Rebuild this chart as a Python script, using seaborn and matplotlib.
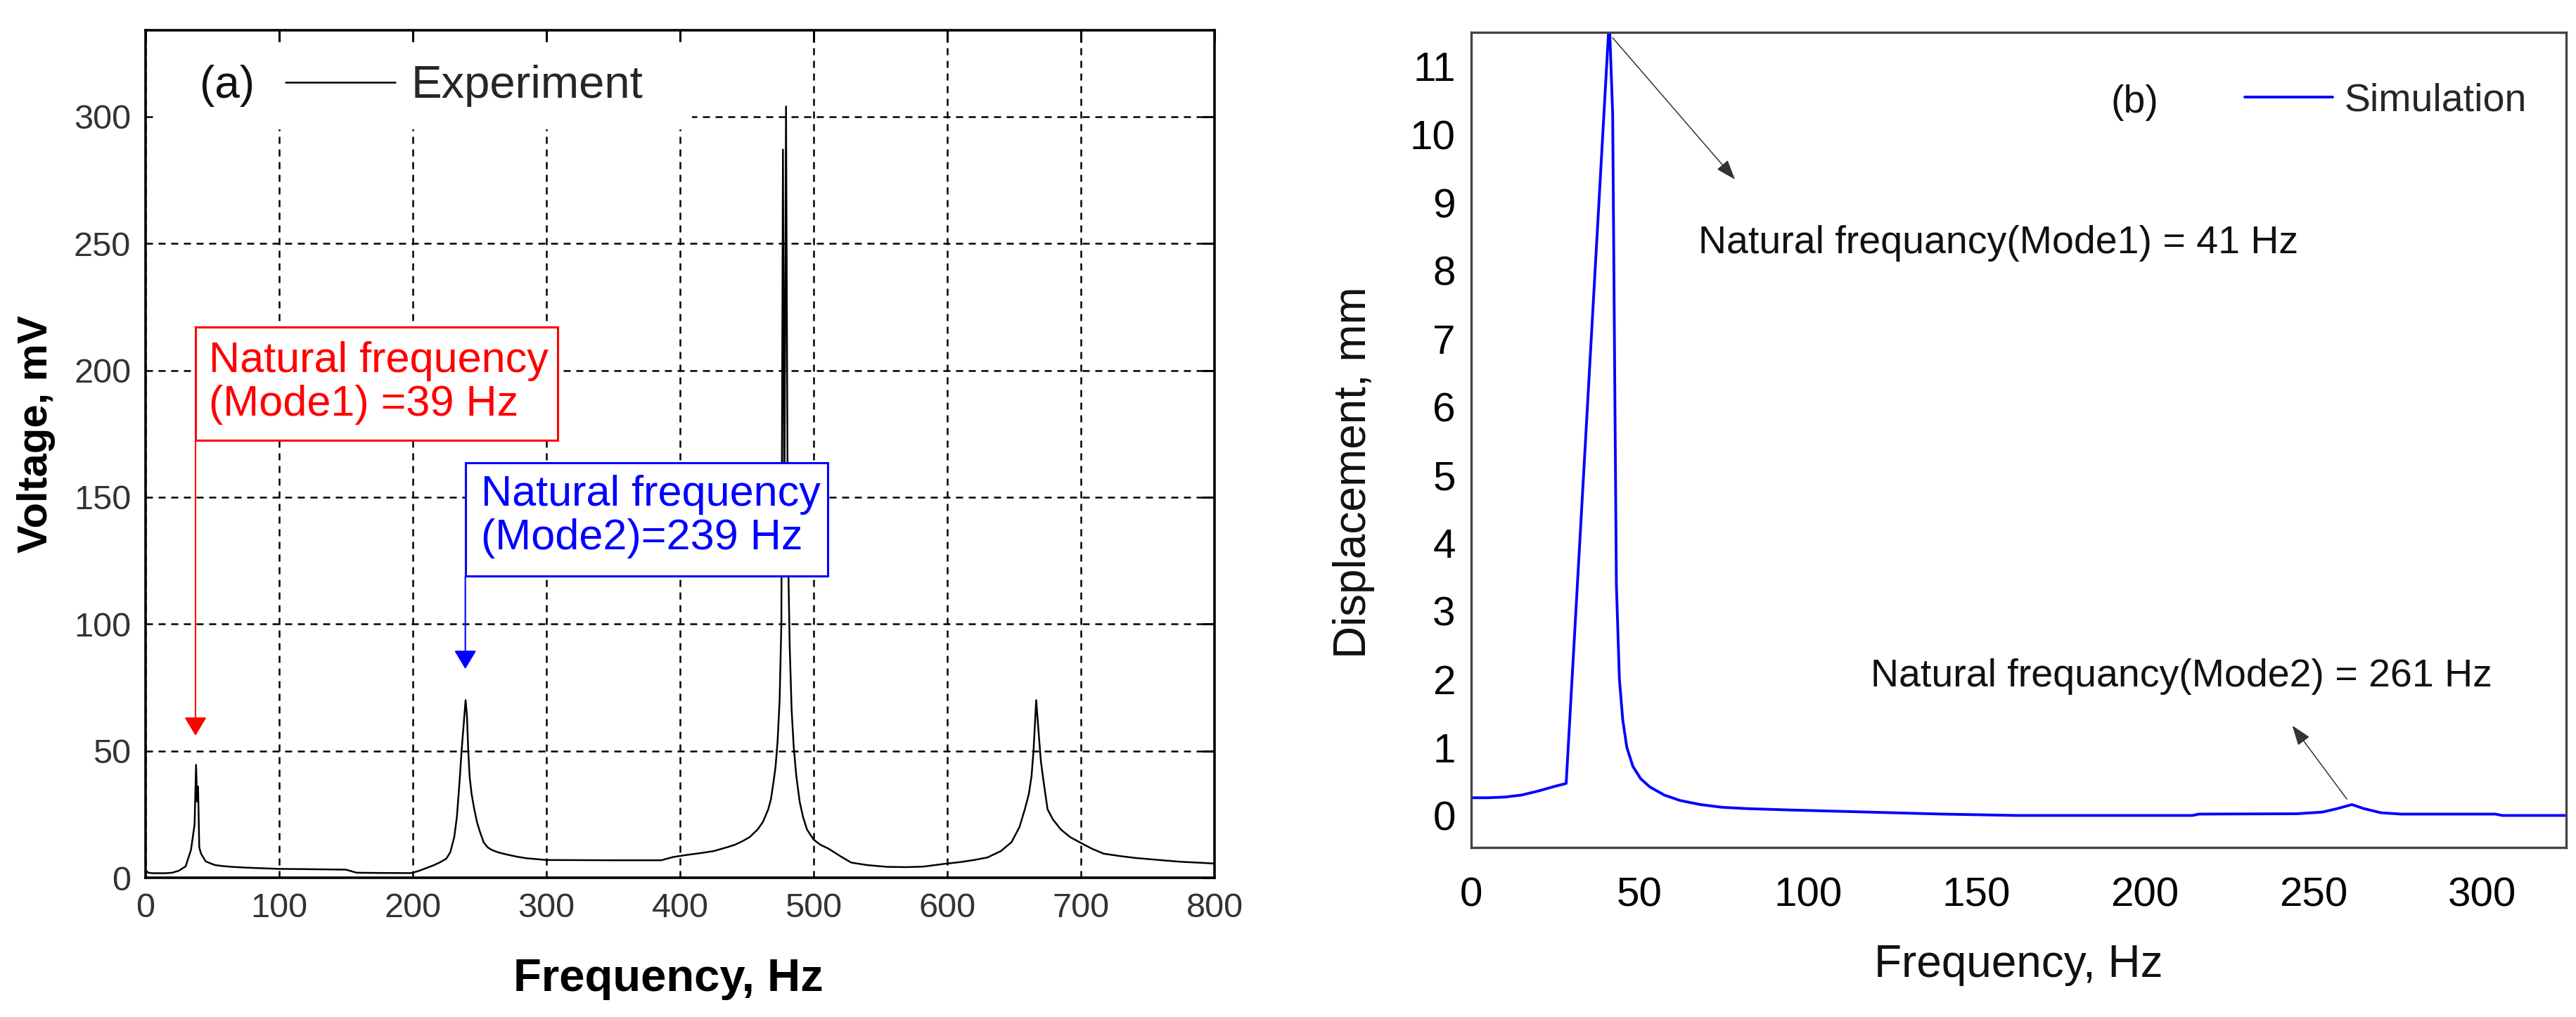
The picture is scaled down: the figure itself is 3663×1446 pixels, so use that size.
import numpy as np
import pandas as pd
import matplotlib
matplotlib.use("Agg")
import matplotlib.pyplot as plt
from matplotlib.patches import Rectangle
import seaborn as sns

exp_freq = [0, 2, 5, 15, 20, 25, 30, 34, 36.7, 37.8, 38.6, 39.3, 40.2, 41.5, 45, 48, 52, 58, 65,
            75, 90, 100, 120, 150, 158, 175, 199, 205, 210, 215, 220, 225, 228, 231, 233, 235,
            236.5, 238, 239.5, 240.5, 241.5, 242.5, 244, 246, 248, 250, 253, 256, 259, 264, 270,
            278, 285, 300, 350, 386, 390, 395, 405, 415, 425, 435, 441, 447, 452, 458, 462, 466,
            468, 470, 471.5, 473, 474.5, 475.8, 477, 478, 479.3, 480.6, 482, 483.5, 485, 487,
            489.5, 492, 495, 500, 505, 511, 520, 528, 540, 555, 570, 582, 598, 610, 620, 630,
            640, 648, 654, 658, 661, 663, 664.5, 665.5, 666.5, 667.5, 668.5, 670, 672, 675, 679,
            685, 692, 699, 708, 717, 730, 741, 752, 763, 775, 790, 800]
exp_volt = [3.0, 2.0, 1.8, 1.8, 2.0, 2.8, 4.5, 11, 21, 44.5, 30, 36, 12, 9.5, 6.5, 5.8, 5.0, 4.6, 4.3,
            4.0, 3.7, 3.5, 3.4, 3.2, 2.0, 1.9, 1.85, 2.8, 3.8, 4.8, 6.0, 7.5, 10, 16, 24, 38,
            50, 60, 70, 64, 50, 40, 33, 27, 22, 18.5, 14, 12, 11, 10, 9.2,
            8.3, 7.7, 7.0, 6.9, 6.9, 7.5, 8.2, 9.0, 9.7, 10.5, 12, 13, 14.5, 16, 19, 22, 27,
            31, 38, 44, 54, 70, 100, 287, 140, 304, 135, 92, 66, 52, 40,
            30, 24, 19, 15, 13, 11.5, 8.5, 6.0, 5.0, 4.3, 4.2, 4.4, 5.5, 6.2, 7.0, 8.0,
            10.5, 14, 20, 27, 33, 40, 50, 60, 70, 63, 56, 46, 38, 27, 23,
            19, 16, 14, 11.5, 9.5, 8.5, 7.8, 7.3, 6.8, 6.3, 5.9, 5.6]

# (b) simulated response
sim_freq = [0, 5, 10, 15, 20, 25, 28.2, 41.0, 42.0, 42.6, 43.1, 44.0, 45.0, 46.2, 48, 50.3, 53,
            57.3, 62, 68, 74.5, 82, 95, 110, 125, 140, 162, 214, 216, 245, 252.7, 257, 261.4,
            265, 270, 276, 304, 306, 325]
sim_disp = [0.26, 0.26, 0.27, 0.30, 0.36, 0.43, 0.47, 11.7, 10.3, 6.5, 3.4, 2.0, 1.4, 1.0, 0.72,
            0.54, 0.42, 0.30, 0.22, 0.16, 0.12, 0.10, 0.08, 0.06, 0.04, 0.02, 0.0, 0.0, 0.02,
            0.025, 0.05, 0.10, 0.16, 0.10, 0.04, 0.02, 0.02, 0.0, 0.0]

a_xticks = [0, 100, 200, 300, 400, 500, 600, 700, 800]
a_yticks = [0, 50, 100, 150, 200, 250, 300]
b_xticks = [0, 50, 100, 150, 200, 250, 300]
b_yticks = list(range(0, 12))

mode1_text_a = "Natural frequency\n(Mode1) =39 Hz"
mode2_text_a = "Natural frequency\n(Mode2)=239 Hz"
mode1_text_b = "Natural frequancy(Mode1) = 41 Hz"
mode2_text_b = "Natural frequancy(Mode2) = 261 Hz"

sns.set_theme(style="white")
plt.rcParams['font.family'] = ['Liberation Sans', 'DejaVu Sans']

df_a = pd.DataFrame({"freq": exp_freq, "volt": exp_volt})
df_b = pd.DataFrame({"freq": sim_freq, "disp": sim_disp})

fig = plt.figure(figsize=(36.63, 14.46), dpi=100)
ax_a = fig.add_axes([0.0565, 0.1369, 0.4150, 0.8333])
ax_b = fig.add_axes([0.5711, 0.1667, 0.4251, 0.8015])

# ---------- panel (a) ----------
sns.lineplot(data=df_a, x="freq", y="volt", ax=ax_a, color="black", lw=1.8,
             estimator=None, sort=False, label="Experiment", zorder=2)
ax_a.set_xlim(0, 800)
ax_a.set_ylim(0, 334)
ax_a.set_xticks(a_xticks)
ax_a.set_yticks(a_yticks)
ax_a.set_axisbelow(True)
ax_a.grid(True, color="black", lw=1.8, linestyle=(0, (4, 3.2)))
ax_a.tick_params(direction="in", top=True, right=True, length=12, width=2.2,
                 labelsize=35, pad=15, labelcolor="#333333", color="black")
for s in ax_a.spines.values():
    s.set_color("black")
    s.set_linewidth(2.6)

# white area behind the legend hides the grid
ax_a.add_patch(Rectangle((0.011, 0.883), 0.50, 0.103, transform=ax_a.transAxes,
                         facecolor="white", edgecolor="none", zorder=1))
ax_a.text(60.9, 312, "(a)", fontsize=46, ha="center", va="center", color="#111111", zorder=3)
ax_a.legend(loc="center left", bbox_to_anchor=(104.9 / 800, 312 / 334), frameon=False,
            fontsize=47, handlelength=2.38, handletextpad=0.35, borderpad=0,
            borderaxespad=0)

ax_a.add_patch(Rectangle((37.4, 172.5), 271.2, 44.5, facecolor="white", edgecolor="red",
                         lw=2.2, zorder=4))
ax_a.text(47.6, 195, mode1_text_a, color="red", fontsize=44, ha="left", va="center",
          linespacing=1.12, zorder=5)
ax_a.annotate("", xy=(37.4, 56), xytext=(37.4, 172.5), zorder=4,
              arrowprops=dict(arrowstyle="-|>,head_length=0.5,head_width=0.3", color="red",
                              lw=1.5, mutation_scale=33, shrinkA=0, shrinkB=0))

ax_a.add_patch(Rectangle((239.3, 118.8), 271.2, 44.8, facecolor="white", edgecolor="blue",
                         lw=2.2, zorder=4))
ax_a.text(250.8, 142.3, mode2_text_a, color="blue", fontsize=44, ha="left", va="center",
          linespacing=1.12, zorder=5)
ax_a.annotate("", xy=(239.3, 82.3), xytext=(239.3, 118.8), zorder=4,
              arrowprops=dict(arrowstyle="-|>,head_length=0.5,head_width=0.3", color="blue",
                              lw=1.5, mutation_scale=33, shrinkA=0, shrinkB=0))

ax_a.set_xlabel("Frequency, Hz", fontsize=47, fontweight="bold", color="black")
ax_a.set_ylabel("Voltage, mV", fontsize=43, fontweight="bold", color="black")
ax_a.xaxis.set_label_coords(0.489, -0.1195)
ax_a.xaxis.label.set_verticalalignment("center")
ax_a.yaxis.set_label_coords(-0.102, 0.5237)
ax_a.yaxis.label.set_verticalalignment("center")

# ---------- panel (b) ----------
sns.lineplot(data=df_b, x="freq", y="disp", ax=ax_b, color="#0000ff", lw=2.8,
             estimator=None, sort=False, label="Simulation")
ax_b.set_xlim(0, 325)
ax_b.set_ylim(-0.47, 11.5)
ax_b.set_xticks(b_xticks)
ax_b.set_yticks(b_yticks)
ax_b.set_xticks(np.arange(25, 325, 50), minor=True)
ax_b.set_yticks(np.arange(0.5, 11.5, 1.0), minor=True)
ax_b.tick_params(which="major", direction="in", length=19, width=2.0, labelsize=42,
                 color="#333333", labelcolor="black")
ax_b.tick_params(which="minor", direction="in", length=10, width=2.0, color="#333333")
ax_b.tick_params(axis="x", which="major", pad=30)
ax_b.tick_params(axis="y", which="major", pad=16)
ax_b.tick_params(top=False, right=False, which="both")
for s in ax_b.spines.values():
    s.set_color("#444444")
    s.set_linewidth(2.4)
ax_b.grid(False)

ax_b.text(197, 10.47, "(b)", fontsize=40, ha="center", va="center", color="#111111")
ax_b.legend(loc="center left", bbox_to_anchor=(229.7 / 325, (10.49 + 0.47) / 11.97),
            frameon=False, fontsize=40, handlelength=2.25, handletextpad=0.28,
            borderpad=0, borderaxespad=0)

arrow_b = dict(arrowstyle="-|>,head_length=0.7,head_width=0.25", color="#333333",
               lw=1.1, mutation_scale=25, shrinkA=0, shrinkB=0)
ax_b.annotate("", xy=(78.3, 9.34), xytext=(42.0, 11.42), arrowprops=arrow_b)
ax_b.text(67.4, 8.40, mode1_text_b, fontsize=40, ha="left", va="center", color="#111111")
ax_b.annotate("", xy=(243.7, 1.32), xytext=(259.9, 0.24), arrowprops=arrow_b)
ax_b.text(118.6, 2.04, mode2_text_b, fontsize=40, ha="left", va="center", color="#111111")

ax_b.set_xlabel("Frequency, Hz", fontsize=46, color="#111111")
ax_b.set_ylabel("Displacement, mm", fontsize=46, color="#111111")
ax_b.xaxis.set_label_coords(0.4997, -0.144)
ax_b.xaxis.label.set_verticalalignment("center")
ax_b.yaxis.set_label_coords(-0.1073, 0.46)
ax_b.yaxis.label.set_verticalalignment("center")

fig.savefig("out.png", dpi=100, facecolor="white")
